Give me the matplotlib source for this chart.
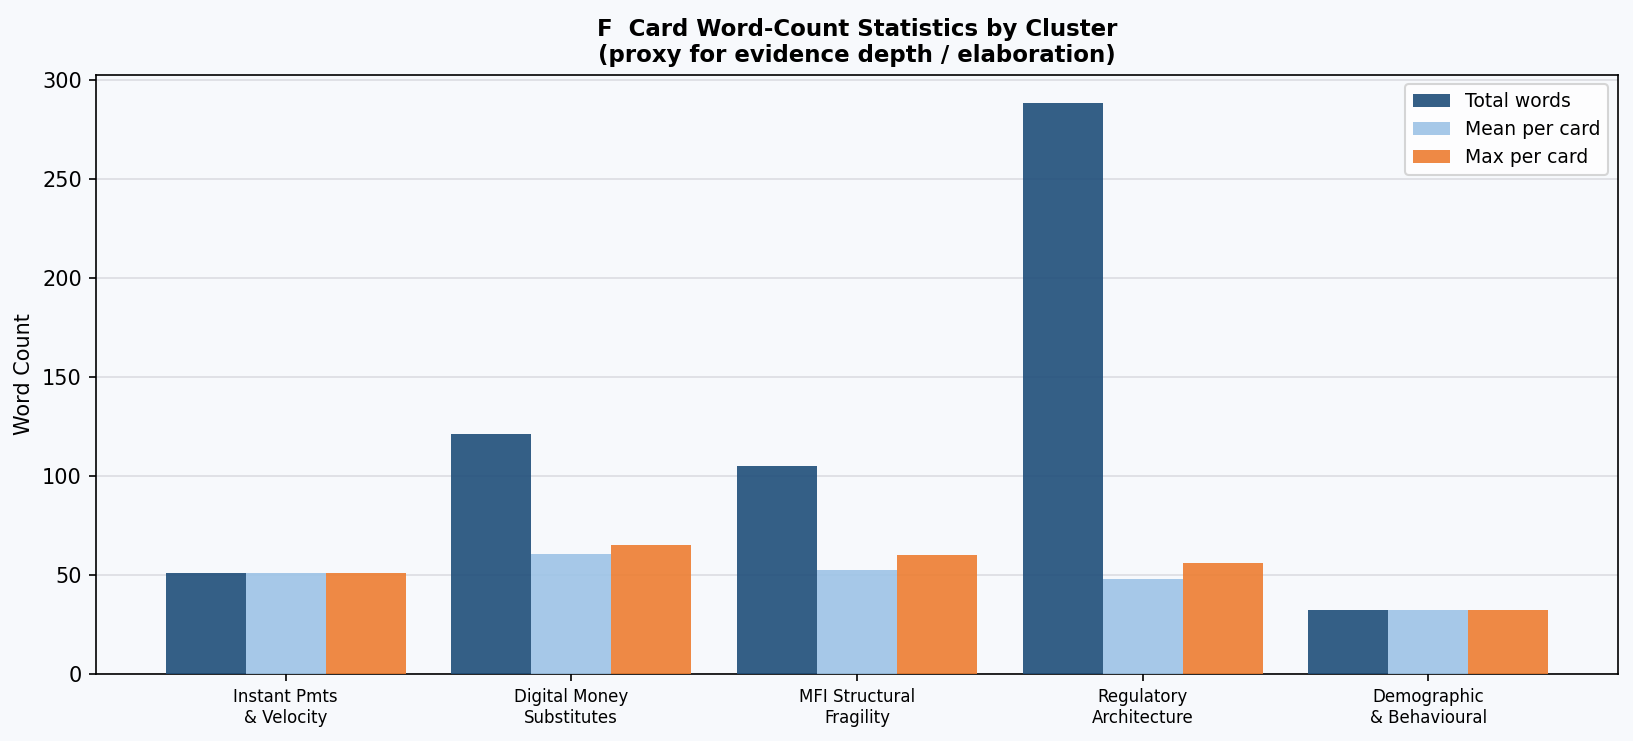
import numpy as np
import matplotlib
matplotlib.use('Agg')
import matplotlib.pyplot as plt

clusters = ['Instant Pmts\n& Velocity', 'Digital Money\nSubstitutes', 'MFI Structural\nFragility',
            'Regulatory\nArchitecture', 'Demographic\n& Behavioural']
total_words = [51, 121, 105, 288, 32]
mean_per_card = [51, 60.5, 52.5, 48, 32]
max_per_card = [51, 65, 60, 56, 32]

bg = '#f7f9fc'
x = np.arange(len(clusters))
w = 0.28

fig, ax = plt.subplots(figsize=(10.893, 4.94), dpi=150)
fig.patch.set_facecolor(bg)
ax.set_facecolor(bg)

ax.bar(x - w, total_words, w, color='#1F4E79', alpha=0.9, label='Total words', zorder=3)
ax.bar(x, mean_per_card, w, color='#9DC3E6', alpha=0.9, label='Mean per card', zorder=3)
ax.bar(x + w, max_per_card, w, color='#ED7D31', alpha=0.9, label='Max per card', zorder=3)

ax.set_xticks(x)
ax.set_xticklabels(clusters, fontsize=8)
ax.set_ylabel('Word Count', fontsize=10)
ax.set_title('F  Card Word-Count Statistics by Cluster\n(proxy for evidence depth / elaboration)',
             fontsize=11, fontweight='bold')
ax.yaxis.grid(True, color='#dcdde2', linewidth=0.8, zorder=0)
ax.set_axisbelow(True)
ax.legend(fontsize=9, loc='upper right')

plt.subplots_adjust(left=0.059, right=0.990, top=0.899, bottom=0.091)
plt.savefig('out.png', dpi=150, facecolor=bg)
